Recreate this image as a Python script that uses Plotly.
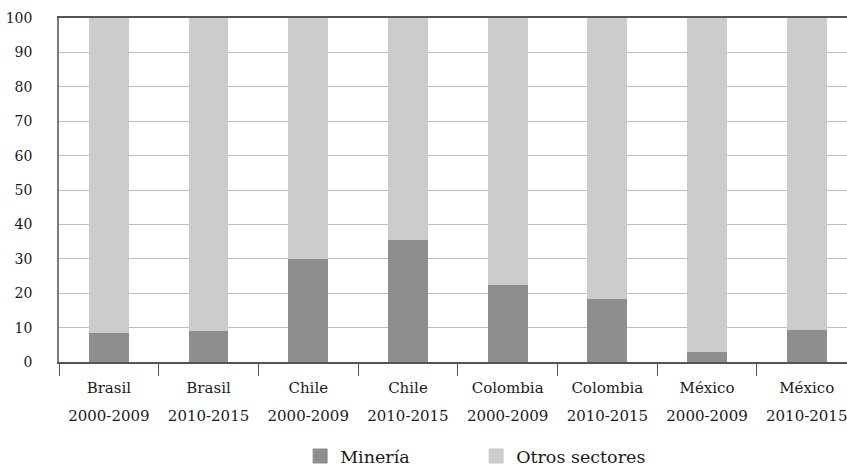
import plotly.graph_objects as go

categories = ["Brasil 2000-2009", "Brasil 2010-2015", "Chile 2000-2009", "Chile 2010-2015",
              "Colombia 2000-2009", "Colombia 2010-2015", "México 2000-2009", "México 2010-2015"]
country = ["Brasil", "Brasil", "Chile", "Chile", "Colombia", "Colombia", "México", "México"]
period = ["2000-2009", "2010-2015", "2000-2009", "2010-2015", "2000-2009", "2010-2015", "2000-2009", "2010-2015"]
mineria = [8.3, 8.9, 29.9, 35.6, 22.4, 18.4, 2.9, 9.2]
otros = [100 - v for v in mineria]
y_ticks = [0, 10, 20, 30, 40, 50, 60, 70, 80, 90, 100]
series_names = ["Minería", "Otros sectores"]
series_colors = ["#8e8e8e", "#cccccc"]

FONT = "DejaVu Serif, Liberation Serif, serif"

fig = go.Figure()
for vals, name, col in zip([mineria, otros], series_names, series_colors):
    fig.add_trace(go.Bar(x=categories, y=vals, name=name, marker=dict(color=col, line=dict(width=0)),
                         width=0.4, showlegend=False, hoverinfo="skip"))
# legend entries with larger square swatches
for name, col in zip(series_names, series_colors):
    fig.add_trace(go.Scatter(x=[None], y=[None], mode="markers", name=name,
                             marker=dict(symbol="square", size=15, color=col)))

ticktext = [f"<span style='font-size:15px'>{c}</span><br><span style='font-size:15px'>{p}</span>"
            for c, p in zip(country, period)]

fig.update_layout(
    barmode="stack",
    width=847, height=474,
    margin=dict(l=59, r=0, t=18, b=107),
    paper_bgcolor="white", plot_bgcolor="white",
    font=dict(family=FONT, color="#1a1a1a", size=16),
    showlegend=True,
    legend=dict(orientation="h", x=0.306, xanchor="left", y=-0.222, yanchor="top",
                font=dict(size=17.5, family=FONT), entrywidth=131, entrywidthmode="pixels",
                traceorder="normal"),
    xaxis=dict(
        type="category", range=[-0.5, 7.404], tickmode="array", tickvals=categories, ticktext=ticktext,
        tickson="boundaries", ticks="outside", ticklen=12, tickcolor="#555555", tickwidth=1,
        showline=True, linecolor="#555555", linewidth=1.5, mirror=True, automargin=False,
        tickfont=dict(size=21.5, family=FONT, color="#1a1a1a"), showgrid=False, ticklabelstandoff=3,
    ),
    yaxis=dict(
        range=[0, 100], tickmode="array", tickvals=y_ticks, ticktext=[str(v) for v in y_ticks],
        showgrid=True, gridcolor="#bdbdbd", gridwidth=1.3, automargin=False,
        showline=True, linecolor="#7a7a7a", linewidth=1.5, ticks="", ticklabelstandoff=22,
        tickfont=dict(size=14, family=FONT, color="#1a1a1a"), zeroline=False,
    ),
)

fig.write_html(
    "out.html",
    config={"displayModeBar": False},
    post_script=("document.documentElement.style.margin='0';document.documentElement.style.overflow='hidden';"
                 "document.documentElement.style.height='474px';"
                 "document.body.style.margin='0';document.body.style.overflow='hidden';"
                 "document.body.style.height='474px';"),
)
